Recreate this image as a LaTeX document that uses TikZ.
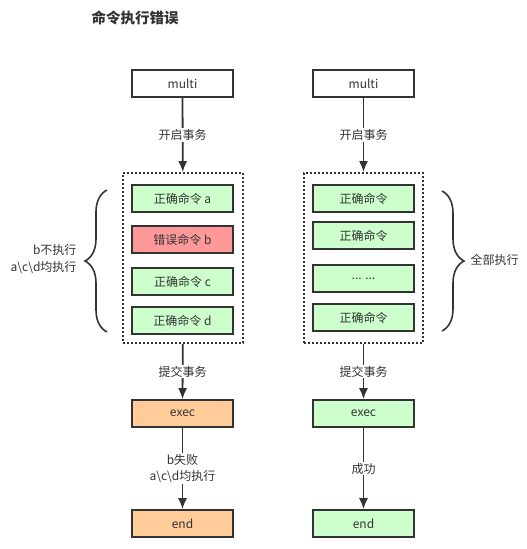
\documentclass[tikz,border=0pt]{standalone}
\usepackage{fontspec}
\setmainfont{Noto Sans CJK SC}
\usetikzlibrary{arrows.meta,decorations.pathreplacing}
\definecolor{lc}{HTML}{333333}
\definecolor{gfill}{HTML}{CCFFCC}
\definecolor{rfill}{HTML}{FF9999}
\definecolor{ofill}{HTML}{FFCC99}
\begin{document}
\begin{tikzpicture}[x=1pt,y=-1pt,
  every node/.style={text=lc,font=\fontsize{12}{14}\selectfont},
  box/.style={draw=lc,line width=1.6pt,minimum width=101pt,minimum height=27pt,inner sep=0pt},
  gbox/.style={box,fill=gfill},
  rbox/.style={box,fill=rfill},
  obox/.style={box,fill=ofill},
  wbox/.style={box,fill=white},
  grp/.style={draw=lc,line width=1.8pt,dash pattern=on 1.8pt off 2.2pt,minimum height=170pt,inner sep=0pt},
  arr/.style={draw=lc,line width=1.8pt,-{Latex[length=11pt,width=9pt]}},
  lab/.style={fill=white,inner sep=1pt,align=center,font=\fontsize{12}{16}\selectfont},
  bracestyle/.style={draw=lc,line width=1.6pt,decorate,decoration={brace,amplitude=22pt}},
  titlestyle/.style={font=\fontsize{14.5}{16}\selectfont\bfseries}
]
\useasboundingbox (0,0) rectangle (527,549);
\node[titlestyle] (title) at (135,18) {命令执行错误};

% left column
\node[wbox] (m1) at (182.5,83.5) {multi};
\node[grp,minimum width=120pt] (g1) at (183,258) {};
\node[gbox] (a1) at (182.5,198.5) {正确命令 a};
\node[rbox] (b1) at (182.5,239.5) {错误命令 b};
\node[gbox] (c1) at (182.5,281.5) {正确命令 c};
\node[gbox] (d1) at (182.5,320.5) {正确命令 d};
\node[obox] (e1) at (182.5,413.5) {exec};
\node[obox] (n1) at (182.5,523.5) {end};
\draw[arr] (m1) -- node[lab] {开启事务} (g1);
\draw[arr] (g1) -- node[lab] {提交事务} (e1);
\draw[arr] (e1) -- node[lab] {b失败\\a\textbackslash c\textbackslash d均执行} (n1);
\coordinate (lb1) at (107,332);
\coordinate (lb2) at (107,190);
\draw[bracestyle] (lb1) -- (lb2);
\node[anchor=east,align=right,font=\fontsize{12}{17}\selectfont] (lt) at (80,259) {b不执行\\a\textbackslash c\textbackslash d均执行};

% right column
\node[wbox] (m2) at (363.5,83.5) {multi};
\node[grp,minimum width=119pt] (g2) at (363.5,258) {};
\node[gbox] (a2) at (363.5,198.5) {正确命令};
\node[gbox] (b2) at (363.5,235.5) {正确命令};
\node[gbox] (c2) at (363.5,278.5) {... ...};
\node[gbox] (d2) at (363.5,317.5) {正确命令};
\node[gbox] (e2) at (363.5,413.5) {exec};
\node[gbox] (n2) at (363.5,523.5) {end};
\draw[arr] (m2) -- node[lab] {开启事务} (g2);
\draw[arr] (g2) -- node[lab] {提交事务} (e2);
\draw[arr] (e2) -- node[lab] {成功} (n2);
\coordinate (rb1) at (442,191);
\coordinate (rb2) at (442,331);
\draw[bracestyle] (rb1) -- (rb2);
\node[anchor=west] (rt) at (467,260) {全部执行};
\end{tikzpicture}
\end{document}
